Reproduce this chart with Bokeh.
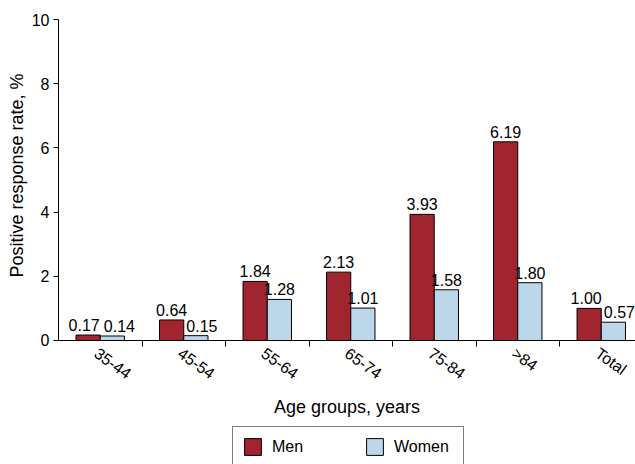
from bokeh.plotting import figure
from bokeh.models import (ColumnDataSource, Range1d, FixedTicker, Legend, LegendItem, Title)
from bokeh.core.properties import value
from bokeh.embed import file_html
from bokeh.resources import INLINE

categories = ["35-44", "45-54", "55-64", "65-74", "75-84", ">84", "Total"]
men = [0.17, 0.64, 1.84, 2.13, 3.93, 6.19, 1.00]
women = [0.14, 0.15, 1.28, 1.01, 1.58, 1.80, 0.57]
y_ticks = [0, 2, 4, 6, 8, 10]

# label nudges (style, in pixels) to avoid collisions as in the reference
men_label_dx = [-4, 0, 0, 0, 0, 0, -3]
women_label_dx = [7, 6, 0, 0, 0, 0, 6]

FONT = "Liberation Sans"
MEN_COLOR = "#A0252F"
WOMEN_COLOR = "#BDD7EA"
BAR_W = 0.29
OFF = 0.145
LABEL_SHIFT = 0.05  # small leftward nudge of rotated category labels

centers = [i + 0.5 for i in range(len(categories))]
men_src = ColumnDataSource(dict(x=[c - OFF for c in centers], top=men,
                                label=["%.2f" % v for v in men], dx=men_label_dx))
women_src = ColumnDataSource(dict(x=[c + OFF for c in centers], top=women,
                                  label=["%.2f" % v for v in women], dx=women_label_dx))

p = figure(width=635, height=464, output_backend="svg", toolbar_location=None,
           x_range=Range1d(0, 6.91), y_range=Range1d(-3.863, 10),
           min_border_top=19, min_border_left=58, min_border_right=0,
           min_border_bottom=0)
p.outline_line_color = None
p.xgrid.grid_line_color = None
p.ygrid.grid_line_color = None
p.background_fill_color = "white"
p.border_fill_color = "white"

r_men = p.vbar(x="x", top="top", bottom=0, width=BAR_W, source=men_src,
               fill_color=MEN_COLOR, line_color="black", line_width=1)
r_women = p.vbar(x="x", top="top", bottom=0, width=BAR_W, source=women_src,
                 fill_color=WOMEN_COLOR, line_color="black", line_width=1)

for src in (men_src, women_src):
    p.text(x="x", y="top", text="label", source=src, text_align="center",
           text_baseline="bottom", x_offset="dx", y_offset=-4,
           text_font=value(FONT), text_font_size="16px", text_color="black")

# x axis drawn at y = 0
label_pos = [c - LABEL_SHIFT for c in centers]
xa = p.xaxis[0]
xa.fixed_location = 0
xa.ticker = FixedTicker(ticks=label_pos, minor_ticks=[1, 2, 3, 4, 5, 6])
xa.major_label_overrides = {c: lab for c, lab in zip(label_pos, categories)}
xa.major_tick_out = 0
xa.major_tick_in = 0
xa.minor_tick_out = 6
xa.minor_tick_in = 0
xa.minor_tick_line_color = "black"
xa.axis_line_color = "black"
xa.major_label_orientation = -0.62
xa.major_label_text_font = FONT
xa.major_label_text_font_size = "16px"
xa.major_label_text_color = "black"
xa.major_label_standoff = 5
xa.axis_label = "Age groups, years"
xa.axis_label_text_font = FONT
xa.axis_label_text_font_size = "18px"
xa.axis_label_text_font_style = "normal"
xa.axis_label_text_color = "black"
xa.axis_label_standoff = 5

# y axis
ya = p.yaxis[0]
ya.bounds = (0, 10)
ya.ticker = FixedTicker(ticks=y_ticks)
ya.major_tick_out = 5
ya.major_tick_in = 0
ya.minor_tick_line_color = None
ya.axis_line_color = "black"
ya.major_label_text_font = FONT
ya.major_label_text_font_size = "16px"
ya.major_label_text_color = "black"
ya.major_label_standoff = 4
ya.axis_label = None

ytitle = Title(text="Positive response rate, %", align="right", offset=54,
               vertical_align="middle", standoff=2,
               text_font=FONT, text_font_size="18px", text_font_style="normal",
               text_color="black")
p.add_layout(ytitle, "left")

legend = Legend(items=[LegendItem(label="Men", renderers=[r_men]),
                       LegendItem(label="Women", renderers=[r_women])],
                orientation="horizontal", location=(174, -3),
                padding=9, spacing=32, label_standoff=9, label_width=60,
                glyph_width=21, glyph_height=21,
                label_text_font=FONT, label_text_font_size="16px",
                label_text_color="black",
                border_line_color="black", border_line_width=1,
                background_fill_color="white", background_fill_alpha=1)
p.add_layout(legend, "center")

open("out.html", "w").write(file_html(p, INLINE))
